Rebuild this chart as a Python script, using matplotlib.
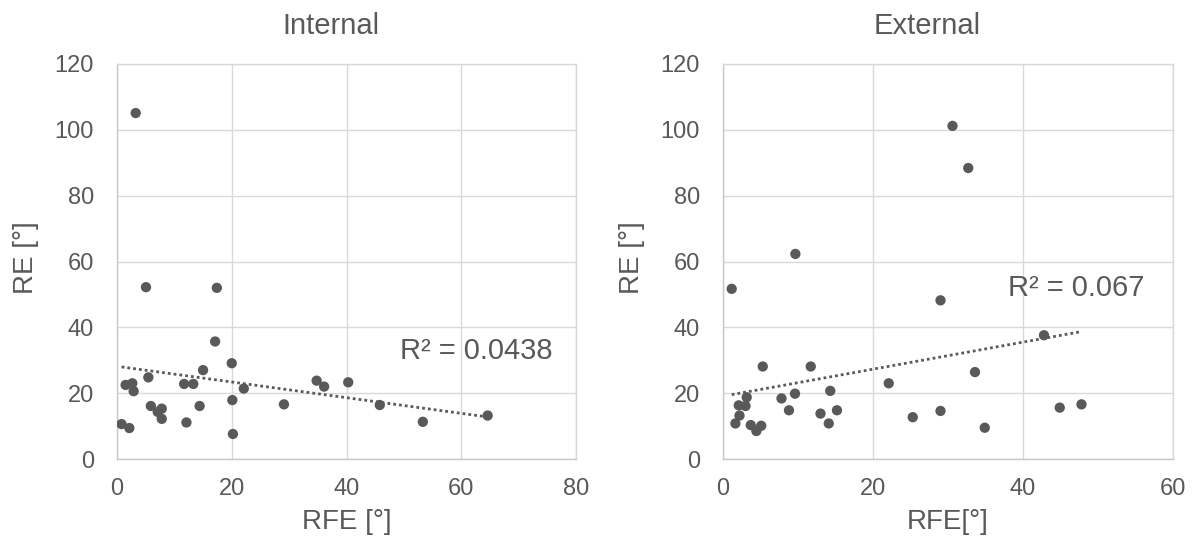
import numpy as np
import matplotlib
matplotlib.use("Agg")
import matplotlib.pyplot as plt

# Internal rotation: RFE vs RE (degrees)
int_rfe = [3.26, 5.05, 17.4, 17.1, 20.0, 5.46, 15.0, 1.5, 2.67, 2.9,
           11.7, 13.3, 22.1, 5.9, 7.8, 7.1, 7.8, 14.4, 20.1, 29.1,
           0.8, 2.15, 12.1, 20.2, 34.8, 36.1, 40.3, 45.8, 53.3, 64.6]
int_re = [105.1, 52.2, 52.0, 35.7, 29.1, 24.8, 27.0, 22.5, 23.0, 20.6,
          22.8, 22.8, 21.4, 16.1, 15.3, 14.3, 12.2, 16.1, 17.9, 16.6,
          10.6, 9.4, 11.1, 7.6, 23.8, 22.0, 23.3, 16.4, 11.3, 13.2]

# External rotation
ext_rfe = [30.6, 9.65, 1.16, 29.0, 5.3, 11.7, 22.1, 3.16, 7.8, 9.6,
           14.3, 2.1, 3.0, 2.2, 1.65, 8.8, 13.0, 15.2, 14.1, 3.7,
           5.1, 4.45, 25.3, 29.0, 32.7, 42.8, 33.6, 34.9, 44.9, 47.8]
ext_re = [101.2, 62.3, 51.7, 48.2, 28.1, 28.1, 23.0, 18.75, 18.4, 19.85,
          20.7, 16.3, 16.1, 13.2, 10.8, 14.8, 13.8, 14.8, 10.8, 10.3,
          10.1, 8.5, 12.7, 14.6, 88.4, 37.6, 26.4, 9.5, 15.6, 16.6]

titles = ["Internal", "External"]
xlabels = ["RFE [°]", "RFE[°]"]
r2_texts = ["R² = 0.0438", "R² = 0.067"]
x_max = [80, 60]
y_ticks = [0, 20, 40, 60, 80, 100, 120]

TXT = "#595959"
GRID = "#d9d9d9"

plt.rcParams["font.family"] = ["Liberation Sans", "DejaVu Sans"]

fig = plt.figure(figsize=(11.97, 5.44), dpi=100)
ax1 = fig.add_axes([117 / 1197, 85 / 544, 459 / 1197, 395 / 544])
ax2 = fig.add_axes([723 / 1197, 85 / 544, 450 / 1197, 395 / 544])

datasets = [(int_rfe, int_re), (ext_rfe, ext_re)]
r2_pos = [(49.3, 30.4), (38.0, 49.5)]
title_x = [331 / 1197, 927 / 1197]

for i, ax in enumerate([ax1, ax2]):
    xs, ys = np.array(datasets[i][0]), np.array(datasets[i][1])

    # linear trendline like excel
    k, b = np.polyfit(xs, ys, 1)
    tx = np.array([xs.min(), xs.max()])
    ax.plot(tx, k * tx + b, color=TXT, lw=2, linestyle=(0, (1, 1.1)), zorder=2)

    ax.scatter(xs, ys, s=55, color=TXT, edgecolors="none", zorder=3)

    ax.set_xlim(0, x_max[i])
    ax.set_ylim(0, 120)
    ax.set_xticks(np.arange(0, x_max[i] + 1, 20))
    ax.set_yticks(y_ticks)
    ax.grid(True, color=GRID, lw=1.0)
    ax.set_axisbelow(True)
    for sp in ax.spines.values():
        sp.set_color(GRID)
        sp.set_linewidth(1.0)
    ax.spines["left"].set_color("#c8c8c8")
    ax.spines["bottom"].set_color("#c8c8c8")
    ax.tick_params(axis="both", length=0, labelsize=17, labelcolor=TXT)
    ax.tick_params(axis="x", pad=14)
    ax.tick_params(axis="y", pad=16.5)

    ax.set_xlabel(xlabels[i], fontsize=20, color=TXT)
    ax.xaxis.set_label_coords(0.5, -0.126)
    ax.set_ylabel("RE [°]", fontsize=20, color=TXT)
    ax.yaxis.set_label_coords(-78 / ax.get_position().width / 1197, 0.51)

    ax.text(r2_pos[i][0], r2_pos[i][1], r2_texts[i], fontsize=21, color=TXT,
            ha="left", va="baseline")

    fig.text(title_x[i], 1 - 34 / 544, titles[i], fontsize=21, color=TXT,
             ha="center", va="baseline")

fig.savefig("out.png", dpi=100)
